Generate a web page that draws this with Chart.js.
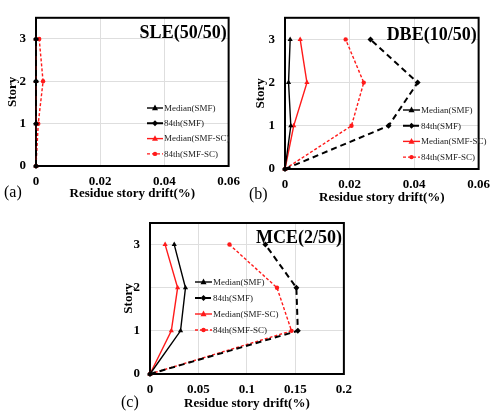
<!DOCTYPE html>
<html><head><meta charset="utf-8">
<script src="https://cdn.jsdelivr.net/npm/chart.js@4/dist/chart.umd.min.js"></script>
<style>
body{margin:0;background:#fff;width:498px;height:415px;position:relative;overflow:hidden;font-family:"Liberation Serif",serif;}
canvas{position:absolute;}
.lab{position:absolute;font:16px "Liberation Serif",serif;color:#000;line-height:16px;}
</style></head><body>
<canvas id="ca" width="248" height="205" style="left:0;top:0"></canvas>
<canvas id="cb" width="249" height="208" style="left:249px;top:0"></canvas>
<canvas id="cc" width="260" height="210" style="left:100px;top:205px"></canvas>
<div class="lab" style="left:4px;top:184px">(a)</div>
<div class="lab" style="left:249px;top:186px">(b)</div>
<div class="lab" style="left:121px;top:394px">(c)</div>
<script>
// ---- data ----
const stories = [0, 1, 2, 3];
const seriesNames = ['Median(SMF)', '84th(SMF)', 'Median(SMF-SC)', '84th(SMF-SC)'];
const panelTitles = ['SLE(50/50)', 'DBE(10/50)', 'MCE(2/50)'];
// SLE(50/50)
const sleMedianSMF = [0, 0, 0, 0];
const sle84thSMF   = [0, 0, 0, 0];
const sleMedianSC  = [0, 0.0002, 0, 0];
const sle84thSC    = [0, 0.0007, 0.0022, 0.001];
// DBE(10/50)
const dbeMedianSMF = [0, 0.0018, 0.0011, 0.0016];
const dbe84thSMF   = [0, 0.0321, 0.0411, 0.0265];
const dbeMedianSC  = [0, 0.0027, 0.0068, 0.0047];
const dbe84thSC    = [0, 0.0206, 0.0244, 0.0188];
// MCE(2/50)
const mceMedianSMF = [0, 0.0315, 0.0366, 0.025];
const mce84thSMF   = [0, 0.1525, 0.151, 0.119];
const mceMedianSC  = [0, 0.022, 0.0285, 0.0156];
const mce84thSC    = [0, 0.146, 0.131, 0.082];
// ticks
const xTicksAB = [0, 0.02, 0.04, 0.06];
const xLabelsAB = ['0', '0.02', '0.04', '0.06'];
const xTicksC = [0, 0.05, 0.1, 0.15, 0.2];
const xLabelsC = ['0', '0.05', '0.1', '0.15', '0.2'];
const yTicks = [0, 1, 2, 3];
const yLabels = ['0', '1', '2', '3'];
const xTitle = 'Residue story drift(%)';
const yTitle = 'Story';

// ---- styles ----
const SERIF = '"Liberation Serif", "Times New Roman", serif';
const RED = '#ff1a1a';
const styles = [
  {color: '#000', dash: [], width: 1.4, point: 'triangle', r: 3},
  {color: '#000', dash: [6, 4], width: 2, point: 'rectRot', r: 3},
  {color: RED, dash: [], width: 1.4, point: 'triangle', r: 3},
  {color: RED, dash: [3, 2], width: 1.4, point: 'circle', r: 2.2}
];

function drawMarker(ctx, style, x, y, r, color) {
  ctx.save();
  ctx.fillStyle = color;
  ctx.setLineDash([]);
  ctx.beginPath();
  if (style === 'triangle') {
    ctx.moveTo(x, y - r * 1.15); ctx.lineTo(x + r, y + r * 0.75); ctx.lineTo(x - r, y + r * 0.75); ctx.closePath();
  } else if (style === 'rectRot') {
    ctx.moveTo(x, y - r); ctx.lineTo(x + r, y); ctx.lineTo(x, y + r); ctx.lineTo(x - r, y); ctx.closePath();
  } else {
    ctx.arc(x, y, r, 0, Math.PI * 2);
  }
  ctx.fill();
  ctx.restore();
}

const framePlugin = {
  id: 'frame',
  beforeDatasetsDraw(chart) {
    const a = chart.chartArea, ctx = chart.ctx;
    ctx.save();
    ctx.strokeStyle = '#000';
    ctx.lineWidth = 2;
    ctx.strokeRect(a.left, a.top, a.right - a.left, a.bottom - a.top);
    ctx.restore();
  }
};

const extrasPlugin = {
  id: 'extras',
  afterDraw(chart, args, opts) {
    const a = chart.chartArea, ctx = chart.ctx;
    ctx.save();
    // panel title
    ctx.font = 'bold 18px ' + SERIF;
    ctx.fillStyle = '#000';
    ctx.textAlign = 'right';
    ctx.textBaseline = 'alphabetic';
    ctx.fillText(opts.title, a.right - 2, a.top + opts.titleDy);
    // legend
    ctx.font = '9px ' + SERIF;
    ctx.textAlign = 'left';
    ctx.textBaseline = 'middle';
    chart.data.datasets.forEach((ds, i) => {
      const st = styles[i];
      const y = opts.ly + i * opts.dy;
      ctx.save();
      ctx.strokeStyle = st.color;
      ctx.lineWidth = st.width;
      ctx.setLineDash(st.dash);
      ctx.beginPath();
      ctx.moveTo(opts.lx, y); ctx.lineTo(opts.lx + opts.len, y);
      ctx.stroke();
      ctx.restore();
      drawMarker(ctx, st.point, opts.lx + opts.len / 2, y, st.r, st.color);
      ctx.fillStyle = '#222';
      ctx.fillText(ds.label, opts.lx + opts.len + 1, y + 0.5);
    });
    ctx.restore();
  }
};

function makeChart(id, seriesVals, xMax, xTicks, xLabels, geom, extra) {
  const datasets = seriesVals.map((vals, i) => {
    const st = styles[i];
    return {
      label: seriesNames[i],
      data: stories.map((s, k) => ({x: vals[k], y: s})),
      showLine: true,
      borderColor: st.color,
      backgroundColor: st.color,
      borderWidth: st.width,
      borderDash: st.dash,
      pointStyle: st.point,
      pointRadius: st.r,
      pointBorderWidth: 0,
      pointBackgroundColor: st.color,
      clip: false,
      tension: 0
    };
  });
  return new Chart(document.getElementById(id), {
    type: 'scatter',
    data: {datasets},
    options: {
      responsive: false,
      animation: false,
      events: [],
      layout: {padding: {left: 0, right: geom.right, top: geom.top, bottom: 0}},
      plugins: {legend: {display: false}, tooltip: {enabled: false}, extras: extra},
      scales: {
        x: {
          type: 'linear', min: 0, max: xMax,
          afterBuildTicks: s => { s.ticks = xTicks.map(v => ({value: v})); },
          afterFit: s => { s.height = geom.xh; },
          grid: {color: '#dedede', lineWidth: 1, drawTicks: false},
          border: {display: false},
          ticks: {
            padding: geom.xpad, color: '#000', maxRotation: 0, autoSkip: false,
            font: {family: SERIF, size: 13, weight: 'bold'},
            callback: (v, i) => xLabels[i]
          },
          title: {display: true, text: xTitle, color: '#000', padding: {top: 0, bottom: geom.xtpad},
                  font: {family: SERIF, size: 13, weight: 'bold'}}
        },
        y: {
          type: 'linear', min: 0, max: 3.5,
          afterBuildTicks: s => { s.ticks = yTicks.map(v => ({value: v})); },
          afterFit: s => { s.width = geom.left; },
          grid: {color: '#dedede', lineWidth: 1, drawTicks: false},
          border: {display: false},
          ticks: {
            padding: 10, color: '#000',
            font: {family: SERIF, size: 13, weight: 'bold'},
            callback: (v, i) => yLabels[i]
          },
          title: {display: true, text: yTitle, color: '#000', padding: {top: geom.ytpad, bottom: 0},
                  font: {family: SERIF, size: 13, weight: 'bold'}}
        }
      }
    },
    plugins: [framePlugin, extrasPlugin]
  });
}

makeChart('ca', [sleMedianSMF, sle84thSMF, sleMedianSC, sle84thSC], 0.06, xTicksAB, xLabelsAB,
  {left: 36, right: 16, top: 14, xh: 39, xpad: 8, xtpad: 4, ytpad: 5},
  {title: panelTitles[0], titleDy: 20, lx: 147, ly: 108, dy: 15.3, len: 16});
makeChart('cb', [dbeMedianSMF, dbe84thSMF, dbeMedianSC, dbe84thSC], 0.06, xTicksAB, xLabelsAB,
  {left: 36, right: 18, top: 15, xh: 39, xpad: 8, xtpad: 3, ytpad: 4},
  {title: panelTitles[1], titleDy: 22, lx: 154, ly: 110, dy: 15.7, len: 17});
makeChart('cc', [mceMedianSMF, mce84thSMF, mceMedianSC, mce84thSC], 0.2, xTicksC, xLabelsC,
  {left: 50, right: 13, top: 18, xh: 41, xpad: 8, xtpad: 4, ytpad: 21},
  {title: panelTitles[2], titleDy: 20, lx: 95, ly: 77, dy: 16, len: 17});
</script>
</body></html>
